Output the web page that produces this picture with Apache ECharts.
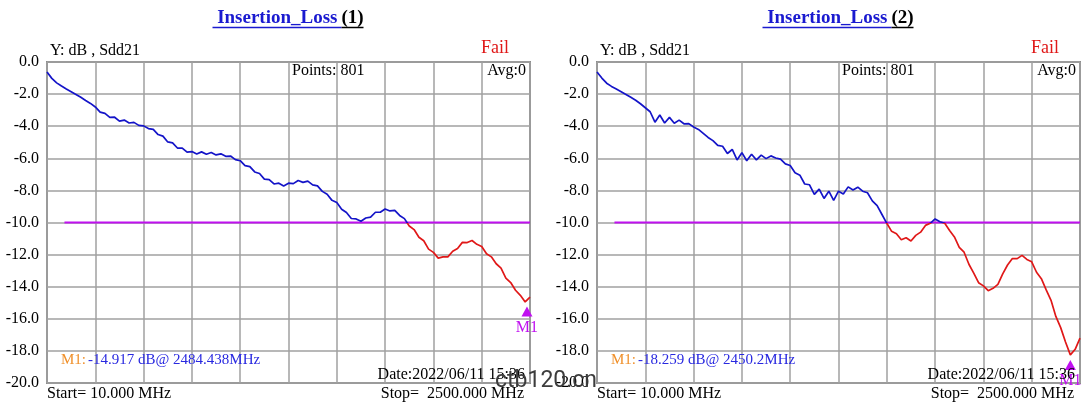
<!DOCTYPE html>
<html>
<head>
<meta charset="utf-8">
<title>Insertion Loss</title>
<script src="https://cdn.jsdelivr.net/npm/echarts@6/dist/echarts.min.js"></script>
<style>
  html, body { margin: 0; padding: 0; background: #fff; }
  #chart { width: 1089px; height: 403px; }
</style>
</head>
<body>
<div id="chart"></div>
<script>
// sweep settings (801 point sweep, read back at 101 points)
const startMHz = 10;
const stopMHz = 2500;

// Sdd21 in dB
const loss1 = [
  -0.62, -1.02, -1.3, -1.5, -1.68, -1.85, -2.02, -2.2, -2.4, -2.58,
  -2.8, -3.12, -3.2, -3.45, -3.44, -3.68, -3.62, -3.8, -3.76, -3.95,
  -3.98, -4.15, -4.2, -4.52, -4.62, -4.98, -5.04, -5.36, -5.36, -5.62,
  -5.58, -5.73, -5.6, -5.75, -5.64, -5.79, -5.72, -5.88, -5.86, -6.08,
  -6.15, -6.46, -6.52, -6.85, -6.95, -7.3, -7.33, -7.6, -7.55, -7.72,
  -7.55, -7.58, -7.38, -7.5, -7.42, -7.66, -7.72, -8.06, -8.24, -8.62,
  -8.76, -9.17, -9.38, -9.75, -9.78, -9.92, -9.72, -9.66, -9.36, -9.36,
  -9.16, -9.28, -9.24, -9.56, -9.76, -10.22, -10.44, -10.92, -11.14, -11.66,
  -11.86, -12.22, -12.14, -12.14, -11.79, -11.62, -11.24, -11.25, -11.12, -11.36,
  -11.49, -11.95, -12.14, -12.57, -12.84, -13.46, -13.74, -14.22, -14.54, -14.95,
  -14.65
];
const loss2 = [
  -0.62, -1.0, -1.32, -1.52, -1.68, -1.85, -2.02, -2.2, -2.38, -2.6,
  -2.85, -3.1, -3.75, -3.3, -3.8, -3.45, -3.82, -3.62, -3.85, -3.84,
  -4.05, -4.2, -4.45, -4.7, -4.9, -5.2, -5.25, -5.7, -5.45, -6.1,
  -5.65, -6.15, -5.75, -6.1, -5.8, -6.02, -5.85, -5.98, -6.05, -6.35,
  -6.45, -6.9, -7.05, -7.6, -7.65, -8.25, -7.92, -8.5, -8.05, -8.62,
  -8.05, -8.22, -7.78, -7.98, -7.8, -8.05, -8.15, -8.65, -8.95, -9.5,
  -10.05, -10.55, -10.7, -11.08, -10.95, -11.15, -10.8, -10.6, -10.18, -10.05,
  -9.78, -9.95, -10.05, -10.5, -10.9, -11.55, -11.85, -12.6, -13.15, -13.75,
  -13.95, -14.25, -14.1, -13.85, -13.2, -12.65, -12.25, -12.25, -12.05, -12.3,
  -12.45, -13.1, -13.5, -14.2, -14.85, -15.85, -16.55, -17.45, -18.25, -17.9,
  -17.2
];

// y range and limit line
const yMin = -20, yMax = 0, yStep = 2;
const limitFreqs = [100, 2500];
const limitLevel = -10;

// markers
const markerFreqs = [2484.438, 2450.2];
const markerValues = [-14.917, -18.259];
const markerTexts = ['-14.917 dB@ 2484.438MHz', '-18.259 dB@ 2450.2MHz'];

const titleNums = ['(1)', '(2)'];
const dateText = 'Date:2022/06/11 15:36';

const SERIF = '"Liberation Serif", "Times New Roman", serif';
const BLUE = '#1414c8';
const RED = '#e01818';
const MAGENTA = '#c010f0';
const GRID_COLOR = '#a0a0a0';

const panelLefts = [47, 597];
const plotTop = 62, plotW = 483, plotH = 321;

const chart = echarts.init(document.getElementById('chart'));

const toPairs = (vals) =>
  vals.map((v, i) => [startMHz + i * (stopMHz - startMHz) / (vals.length - 1), v]);

// trace is blue above the limit, red below it
const limitOffset = (yMax - limitLevel) / (yMax - yMin);
const passFail = new echarts.graphic.LinearGradient(0, plotTop, 0, plotTop + plotH, [
  { offset: 0, color: BLUE },
  { offset: limitOffset, color: BLUE },
  { offset: limitOffset, color: RED },
  { offset: 1, color: RED }
], true);

const grids = [], xAxes = [], yAxes = [], series = [], graphics = [];

[loss1, loss2].forEach((vals, p) => {
  const left = panelLefts[p];
  grids.push({
    left: left, top: plotTop, width: plotW, height: plotH,
    show: true, borderColor: '#8c8c8c', borderWidth: 2, backgroundColor: '#fff'
  });
  // data axis (frequency)
  xAxes.push({
    gridIndex: p, type: 'value', min: startMHz, max: stopMHz, show: false
  });
  // division axis only for the 10 vertical grid lines
  xAxes.push({
    gridIndex: p, type: 'value', min: 0, max: 10, interval: 1,
    axisLine: { show: false }, axisTick: { show: false }, axisLabel: { show: false },
    splitLine: { show: true, lineStyle: { color: GRID_COLOR, width: 1.5 } }
  });
  yAxes.push({
    gridIndex: p, type: 'value', min: yMin, max: yMax, interval: yStep,
    axisLine: { show: false }, axisTick: { show: false },
    axisLabel: {
      formatter: (v) => v.toFixed(1), color: '#000', fontFamily: SERIF,
      fontSize: 16, margin: 8
    },
    splitLine: { show: true, lineStyle: { color: GRID_COLOR, width: 1.5 } }
  });

  series.push({
    type: 'line', xAxisIndex: p * 2, yAxisIndex: p,
    data: toPairs(vals), symbol: 'none', z: 5,
    itemStyle: { color: BLUE },
    lineStyle: { width: 1.7, color: passFail },
    markPoint: {
      symbol: 'triangle', symbolSize: [11, 10], symbolOffset: [0, 10],
      itemStyle: { color: MAGENTA },
      label: {
        show: true, position: 'bottom', distance: 3, formatter: 'M1',
        color: MAGENTA, fontFamily: SERIF, fontSize: 16
      },
      data: [{ coord: [markerFreqs[p], markerValues[p]] }]
    }
  });
  series.push({
    type: 'line', xAxisIndex: p * 2, yAxisIndex: p,
    data: limitFreqs.map((f) => [f, limitLevel]), symbol: 'none', z: 4,
    lineStyle: { color: MAGENTA, width: 2 }, itemStyle: { color: MAGENTA },
    silent: true
  });

  const right = left + plotW;
  const cx = left + plotW / 2;
  // title with underline
  graphics.push(
    { type: 'text', x: cx + 49, y: 18, style: { text: 'Insertion_Loss', textAlign: 'right', textVerticalAlign: 'middle', font: 'bold 19px ' + SERIF, fill: '#1a1ad0' } },
    { type: 'text', x: cx + 53, y: 18, style: { text: titleNums[p], textAlign: 'left', textVerticalAlign: 'middle', font: 'bold 19px ' + SERIF, fill: '#000' } },
    { type: 'line', shape: { x1: cx - 76, y1: 27.5, x2: cx + 53, y2: 27.5 }, style: { stroke: '#1a1ad0', lineWidth: 1.5 } },
    { type: 'line', shape: { x1: cx + 53, y1: 27.5, x2: cx + 75, y2: 27.5 }, style: { stroke: '#000', lineWidth: 1.5 } },
    { type: 'text', x: left + 3, y: 51, style: { text: 'Y: dB , Sdd21', textVerticalAlign: 'middle', font: '16px ' + SERIF, fill: '#000' } },
    { type: 'text', x: right - 21, y: 48, style: { text: 'Fail', textAlign: 'right', textVerticalAlign: 'middle', font: '18px ' + SERIF, fill: RED } },
    { type: 'text', x: left + 245, y: 71, z: 10, style: { text: 'Points: 801', textVerticalAlign: 'middle', font: '16px ' + SERIF, fill: '#000' } },
    { type: 'text', x: right - 4, y: 71, z: 10, style: { text: 'Avg:0', textAlign: 'right', textVerticalAlign: 'middle', font: '16px ' + SERIF, fill: '#000' } },
    { type: 'text', x: left + 14, y: 360, z: 10, style: { text: 'M1: ', textVerticalAlign: 'middle', font: '15px ' + SERIF, fill: '#f0902a' } },
    { type: 'text', x: left + 41, y: 360, z: 10, style: { text: markerTexts[p], textVerticalAlign: 'middle', font: '15px ' + SERIF, fill: '#2828e0' } },
    { type: 'text', x: right - 5, y: 375, z: 10, style: { text: dateText, textAlign: 'right', textVerticalAlign: 'middle', font: '16px ' + SERIF, fill: '#000' } },
    { type: 'text', x: left, y: 394, style: { text: 'Start= 10.000 MHz', textVerticalAlign: 'middle', font: '16px ' + SERIF, fill: '#000' } },
    { type: 'text', x: right - 6, y: 394, style: { text: 'Stop=  2500.000 MHz', textAlign: 'right', textVerticalAlign: 'middle', font: '16px ' + SERIF, fill: '#000' } }
  );
});

// site watermark over the middle
graphics.push({
  type: 'text', x: 495, y: 381, z: 20,
  style: { text: 'ctb120.cn', textVerticalAlign: 'middle', font: '23px Roboto', fill: '#3c3c3c' }
});

chart.setOption({
  animation: false,
  backgroundColor: '#fff',
  color: [BLUE, MAGENTA],
  grid: grids,
  xAxis: xAxes,
  yAxis: yAxes,
  series: series,
  graphic: graphics
});
</script>
</body>
</html>
